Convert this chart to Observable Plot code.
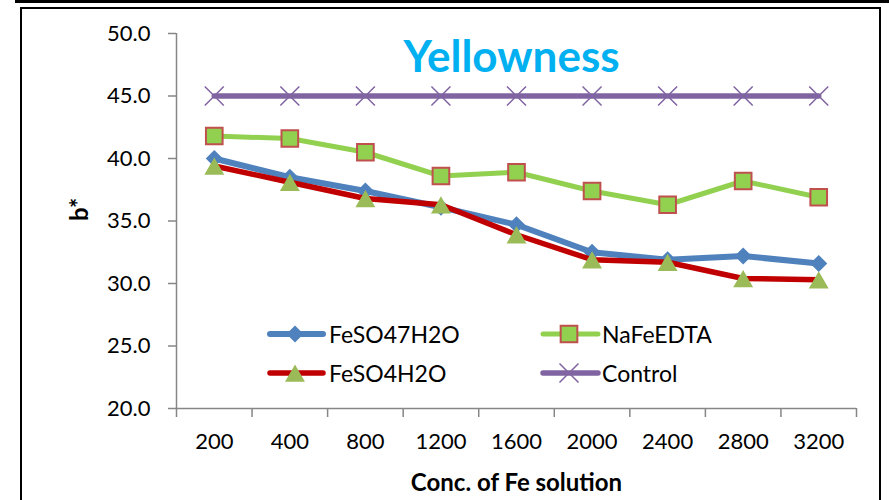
<!DOCTYPE html>
<html><head><meta charset="utf-8">
<script src="https://cdn.jsdelivr.net/npm/d3@7"></script>
<script src="https://cdn.jsdelivr.net/npm/@observablehq/plot@0.6"></script>
<style>
body{margin:0;background:#fff;}
#wrap{position:relative;width:889px;height:500px;overflow:hidden;background:#fff;font-family:Lato,sans-serif;}
#chart{position:absolute;left:0;top:0;}
#legend{position:absolute;left:0;top:0;}
#topline{position:absolute;left:15px;top:0;width:874px;height:3px;background:#000;}
#box{position:absolute;left:20px;top:7px;width:857px;height:600px;border:2px solid #000;}
</style></head><body>
<div id="wrap"><div id="chart"></div><svg id="legend" width="889" height="500"></svg><div id="topline"></div><div id="box"></div></div>
<script>
// ---- data ----
const concentrations = ["200","400","800","1200","1600","2000","2400","2800","3200"];
const feso47h2o = [40.0, 38.5, 37.4, 36.1, 34.7, 32.5, 31.9, 32.2, 31.6];
const nafeedta  = [41.8, 41.6, 40.5, 38.6, 38.9, 37.4, 36.3, 38.2, 36.9];
const feso4h2o  = [39.4, 38.1, 36.8, 36.3, 33.9, 31.9, 31.7, 30.4, 30.3];
const control   = [45.0, 45.0, 45.0, 45.0, 45.0, 45.0, 45.0, 45.0, 45.0];
const seriesNames = ["FeSO47H2O", "NaFeEDTA", "FeSO4H2O", "Control"];
const yTicks = [20, 25, 30, 35, 40, 45, 50];
const chartTitle = "Yellowness";
const xTitle = "Conc. of Fe solution";
const yTitle = "b*";

// ---- styles ----
const styles = {
  "FeSO47H2O": {line:"#4F81BD", lw:6, symbol:"diamond2", r:7.7, fill:"#4F81BD", stroke:"none", sw:0, dy:0},
  "NaFeEDTA":  {line:"#92D050", lw:5, symbol:"square", r:9.4, fill:"#92D050", stroke:"#C0504D", sw:2, dy:0},
  "FeSO4H2O":  {line:"#C00000", lw:5.5, symbol:"triangle", r:7.4, fill:"#9BBB59", stroke:"none", sw:0, dy:2.9},
  "Control":   {line:"#8064A2", lw:5.5, symbol:"times", r:8.7, fill:"none", stroke:"#8064A2", sw:1.5, dy:0}
};
const valuesByName = {"FeSO47H2O": feso47h2o, "NaFeEDTA": nafeedta, "FeSO4H2O": feso4h2o, "Control": control};

const rows = seriesNames.flatMap(name => valuesByName[name].map((v, i) => ({name, i, conc: concentrations[i], v})));
const xDomain = [-0.5, concentrations.length - 0.5];
const boundaries = d3.range(concentrations.length + 1).map(k => k - 0.5);
const grey = "#868686";

const marks = [
  Plot.ruleX([xDomain[0]], {stroke: grey, strokeWidth: 1.5}),
  Plot.ruleY([yTicks[0]], {stroke: grey, strokeWidth: 1.5}),
  Plot.axisY({ticks: yTicks, tickFormat: d3.format(".1f"), tickSize: 8, tickPadding: 18, fontSize: 22, stroke: grey, strokeWidth: 1.5, fill: "#000", label: null}),
  Plot.axisX({ticks: concentrations.map((_, i) => i), tickFormat: i => concentrations[i], tickSize: 0, tickPadding: 25, fontSize: 22, fill: "#000", stroke: "none", label: null}),
  Plot.axisX({ticks: boundaries, tickFormat: () => "", tickSize: 9, stroke: grey, strokeWidth: 1.5, label: null}),
];
for (const name of seriesNames) {
  const s = styles[name];
  const data = rows.filter(d => d.name === name);
  marks.push(Plot.line(data, {x: "i", y: "v", stroke: s.line, strokeWidth: s.lw, strokeLinejoin: "round", strokeLinecap: "round"}));
  marks.push(Plot.dot(data, {x: "i", y: "v", symbol: s.symbol, r: s.r, fill: s.fill, stroke: s.stroke, strokeWidth: s.sw, dy: s.dy}));
}
marks.push(Plot.text([chartTitle], {frameAnchor: "top", lineAnchor: "middle", dx: -5, dy: 24, fontSize: 44, fontWeight: "bold", fill: "#00B0F0", fontFamily: "Lato"}));
marks.push(Plot.text([xTitle], {frameAnchor: "bottom", lineAnchor: "middle", dy: 75, fontSize: 24, fontWeight: "bold", fill: "#000", fontFamily: "Lato"}));
marks.push(Plot.text([yTitle], {frameAnchor: "left", lineAnchor: "middle", dx: -96, rotate: -90, fontSize: 24, fontWeight: "bold", fill: "#000", fontFamily: "Lato"}));

const chart = Plot.plot({
  width: 889, height: 500,
  marginLeft: 176, marginRight: 33, marginTop: 33, marginBottom: 92,
  style: {fontFamily: "Lato", fontSize: "22px", background: "transparent", color: "#000"},
  x: {type: "linear", domain: xDomain},
  y: {type: "linear", domain: [yTicks[0], yTicks[yTicks.length - 1]]},
  marks
});
document.getElementById("chart").appendChild(chart);

// ---- legend ----
const legendLayout = [
  {name: "FeSO47H2O", x0: 270, x1: 323, mx: 295, tx: 329, y: 334},
  {name: "NaFeEDTA",  x0: 543, x1: 598, mx: 569, tx: 602, y: 334},
  {name: "FeSO4H2O",  x0: 270, x1: 323, mx: 295, tx: 329, y: 373},
  {name: "Control",   x0: 543, x1: 598, mx: 569, tx: 602, y: 373}
];
const symMap = {diamond2: d3.symbolDiamond2, square: d3.symbolSquare, triangle: d3.symbolTriangle, times: d3.symbolTimes};
const lg = d3.select("#legend");
for (const it of legendLayout) {
  const s = styles[it.name];
  lg.append("line").attr("x1", it.x0).attr("x2", it.x1).attr("y1", it.y).attr("y2", it.y)
    .attr("stroke", s.line).attr("stroke-width", s.lw).attr("stroke-linecap", "round");
  lg.append("path").attr("d", d3.symbol(symMap[s.symbol], Math.PI * s.r * s.r)())
    .attr("transform", `translate(${it.mx},${it.y + s.dy})`)
    .attr("fill", s.fill).attr("stroke", s.stroke).attr("stroke-width", s.sw);
  lg.append("text").attr("x", it.tx).attr("y", it.y + 9).attr("font-family", "Lato").attr("font-size", 23).attr("fill", "#000").text(it.name);
}
</script>
</body></html>
